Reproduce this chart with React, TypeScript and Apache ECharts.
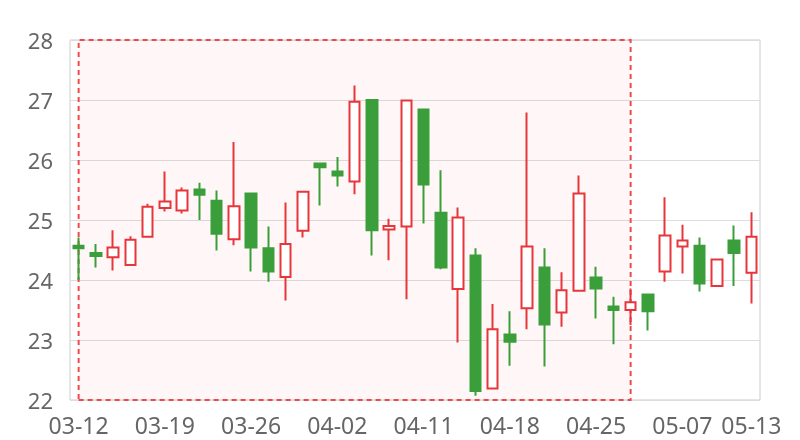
import React, { useEffect, useRef } from "react";
import * as echarts from "echarts";

const dates = [
  "03-12", "03-13", "03-14", "03-15", "03-18", "03-19", "03-20", "03-21", "03-22", "03-25",
  "03-26", "03-27", "03-28", "03-29", "04-01", "04-02", "04-03", "04-04", "04-09", "04-10",
  "04-11", "04-12", "04-15", "04-16", "04-17", "04-18", "04-19", "04-22", "04-23", "04-24",
  "04-25", "04-26", "04-29", "04-30", "05-06", "05-07", "05-08", "05-09", "05-10", "05-13",
];

// [open, close, low, high]
const prices: number[][] = [
  [24.57, 24.53, 24.0, 24.71],
  [24.45, 24.4, 24.21, 24.6],
  [24.38, 24.54, 24.16, 24.83],
  [24.25, 24.67, 24.24, 24.73],
  [24.72, 25.22, 24.71, 25.27],
  [25.2, 25.31, 25.14, 25.81],
  [25.16, 25.49, 25.11, 25.54],
  [25.51, 25.42, 25.0, 25.62],
  [25.32, 24.77, 24.49, 25.49],
  [24.68, 25.23, 24.58, 26.3],
  [25.44, 24.54, 24.14, 25.46],
  [24.53, 24.14, 23.97, 24.89],
  [24.05, 24.6, 23.66, 25.29],
  [24.82, 25.47, 24.71, 25.48],
  [25.94, 25.88, 25.24, 25.95],
  [25.81, 25.74, 25.56, 26.05],
  [25.64, 26.97, 25.43, 27.24],
  [27.0, 24.83, 24.41, 27.0],
  [24.84, 24.9, 24.33, 25.02],
  [24.89, 26.99, 23.68, 27.0],
  [26.84, 25.59, 24.94, 26.85],
  [25.12, 24.21, 24.18, 25.83],
  [23.85, 25.04, 22.96, 25.21],
  [24.41, 22.15, 22.07, 24.53],
  [22.19, 23.18, 22.19, 23.6],
  [23.09, 22.97, 22.57, 23.48],
  [23.53, 24.56, 23.18, 26.79],
  [24.21, 23.26, 22.56, 24.53],
  [23.46, 23.83, 23.22, 24.13],
  [23.82, 25.44, 23.81, 25.74],
  [24.04, 23.86, 23.36, 24.22],
  [23.56, 23.5, 22.93, 23.72],
  [23.5, 23.63, 23.25, 23.86],
  [23.76, 23.48, 23.16, 23.77],
  [24.14, 24.74, 23.97, 25.38],
  [24.56, 24.66, 24.11, 24.92],
  [24.57, 23.94, 23.81, 24.71],
  [23.9, 24.34, 23.89, 24.35],
  [24.66, 24.45, 23.9, 24.91],
  [24.12, 24.72, 23.61, 25.13],
];

const areaStart = "03-12";
const areaEnd = "04-29";

export default function App() {
  const ref = useRef<HTMLDivElement>(null);
  useEffect(() => {
    if (!ref.current) return;
    const chart = echarts.init(ref.current, null, { renderer: "svg" });
    const last = dates.length - 1;
    chart.setOption({
      animation: false,
      grid: {
        left: 70,
        right: 40,
        top: 40,
        bottom: 40,
        show: true,
        borderColor: "#ccc",
        borderWidth: 1,
      },
      xAxis: {
        type: "category",
        data: dates,
        boundaryGap: true,
        axisLine: { show: false },
        axisTick: { show: false },
        axisLabel: {
          color: "#666",
          fontSize: 23,
          fontFamily: "Noto Sans",
          margin: 13,
          interval: (i: number) => i % 5 === 0 || i === last,
        },
        splitLine: { show: false },
      },
      yAxis: {
        type: "value",
        min: 22,
        max: 28,
        interval: 1,
        axisLine: { show: false },
        axisTick: { show: false },
        axisLabel: {
          color: "#666",
          fontSize: 22,
          fontFamily: "Noto Sans",
          margin: 17,
        },
        splitLine: { lineStyle: { color: "#ddd" } },
      },
      series: [
        {
          type: "candlestick",
          data: prices,
          barWidth: 11,
          itemStyle: {
            color: "#fff",
            color0: "#3a9f3a",
            borderColor: "#e6363b",
            borderColor0: "#3a9f3a",
            borderWidth: 2,
          },
          markArea: {
            silent: true,
            itemStyle: {
              color: "rgba(255, 40, 40, 0.035)",
              borderColor: "#ee4a4a",
              borderWidth: 2,
              borderType: [5, 4],
            },
            data: [[{ xAxis: areaStart }, { xAxis: areaEnd }]],
          },
        },
      ],
    });
    return () => chart.dispose();
  }, []);
  return (
    <div
      ref={ref}
      style={{ position: "fixed", left: 0, top: 0, width: 800, height: 440 }}
    />
  );
}
